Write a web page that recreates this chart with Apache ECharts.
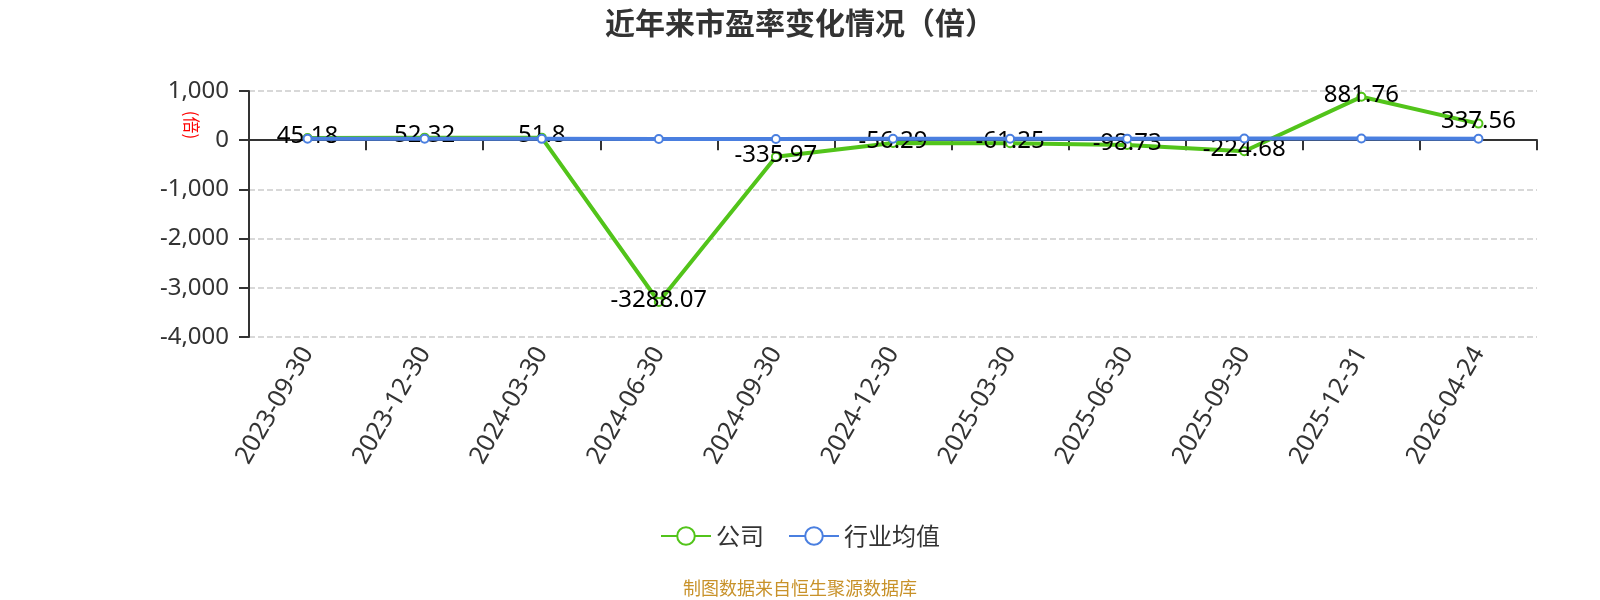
<!DOCTYPE html>
<html><head><meta charset="utf-8">
<script src="https://cdn.jsdelivr.net/npm/echarts@6/dist/echarts.min.js"></script>
<style>html,body{margin:0;padding:0;background:#fff}#c{width:1600px;height:600px}</style>
</head><body><div id="c"></div>
<script>
const categories = ['2023-09-30','2023-12-30','2024-03-30','2024-06-30','2024-09-30','2024-12-30','2025-03-30','2025-06-30','2025-09-30','2025-12-31','2026-04-24'];
const companyPE = [45.18, 52.32, 51.8, -3288.07, -335.97, -56.29, -61.25, -98.73, -224.68, 881.76, 337.56];
const industryPE = [28, 30, 27, 25, 26, 28, 30, 32, 35, 33, 30];
const yTicks = {min: -4000, max: 1000, interval: 1000};

const chart = echarts.init(document.getElementById('c'));
const font = '"Noto Sans", "Noto Sans CJK SC", sans-serif';
const cjk = '"Noto Sans CJK SC", sans-serif';
chart.setOption({
  textStyle: {fontFamily: font},
  animation: false,
  title: {text: '近年来市盈率变化情况（倍）', left: 'center', top: 3,
    textStyle: {fontSize: 30, fontWeight: 'bold', color: '#333', fontFamily: cjk}},
  grid: {left: 249, right: 63, top: 91, bottom: 263},
  legend: {top: 519, itemWidth: 50, itemHeight: 22, itemGap: 24,
    textStyle: {fontSize: 24, color: '#333', fontFamily: cjk},
    data: ['公司', '行业均值']},
  graphic: [
    {type: 'text', left: 'center', top: 579, style: {text: '制图数据来自恒生聚源数据库', fill: '#c8922a', fontSize: 18, fontFamily: cjk}},
    {type: 'text', x: 191, y: 125, rotation: -Math.PI/2, style: {text: '(倍)', fill: '#ff0000', fontSize: 17, fontFamily: cjk, align: 'center', verticalAlign: 'middle'}}
  ],
  xAxis: [
    {type: 'category', data: categories, boundaryGap: true,
      axisLine: {onZero: true, lineStyle: {color: '#333', width: 2}},
      axisTick: {show: true, length: 10, lineStyle: {color: '#333', width: 2}},
      axisLabel: {show: false}},
    {type: 'category', data: categories, position: 'bottom', boundaryGap: true,
      axisLine: {show: false}, axisTick: {show: false},
      axisLabel: {rotate: 60, fontSize: 25, color: '#333', margin: 12, interval: 0}}
  ],
  yAxis: {type: 'value', min: yTicks.min, max: yTicks.max, interval: yTicks.interval,
    axisLine: {show: true, lineStyle: {color: '#333', width: 2}},
    axisTick: {show: true, length: 10, lineStyle: {color: '#333', width: 2}},
    axisLabel: {fontSize: 24, color: '#333', margin: 20},
    splitLine: {lineStyle: {type: 'dashed', color: '#ccc', width: 1.5}}},
  series: [
    {name: '公司', type: 'line', data: companyPE, xAxisIndex: 0,
      itemStyle: {color: '#52c41a'}, lineStyle: {width: 4, color: '#52c41a'},
      symbol: 'emptyCircle', symbolSize: 8, z: 2,
      label: {show: true, position: 'inside', offset: [0, -2], fontSize: 24, color: '#000'}},
    {name: '行业均值', type: 'line', data: industryPE, xAxisIndex: 0,
      itemStyle: {color: '#4a7fe0'}, lineStyle: {width: 4, color: '#4a7fe0'},
      symbol: 'emptyCircle', symbolSize: 8, z: 3}
  ]
});
</script></body></html>
